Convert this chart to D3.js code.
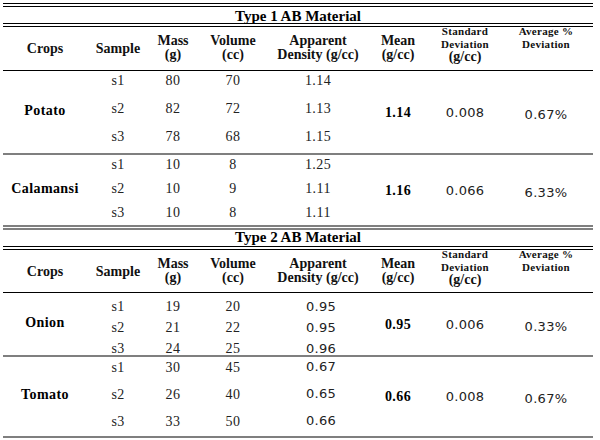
<!DOCTYPE html>
<html>
<head>
<meta charset="utf-8">
<script src="https://cdn.jsdelivr.net/npm/d3@7"></script>
<style>
  html, body { margin: 0; padding: 0; background: #fff; }
  svg { display: block; }
</style>
</head>
<body>
<svg id="chart" width="600" height="440"></svg>
<script>
// table data
const tableTitles = ["Type 1 AB Material", "Type 2 AB Material"];
const crops = ["Potato", "Calamansi", "Onion", "Tomato"];
const samples = ["s1", "s2", "s3"];
const mass = [[80, 82, 78], [10, 10, 10], [19, 21, 24], [30, 26, 33]];
const volume = [[70, 72, 68], [8, 9, 8], [20, 22, 25], [45, 40, 50]];
const density = [[1.14, 1.13, 1.15], [1.25, 1.11, 1.11], [0.95, 0.95, 0.96], [0.67, 0.65, 0.66]];
const mean = [1.14, 1.16, 0.95, 0.66];
const stdDev = [0.008, 0.066, 0.006, 0.008];
const avgDev = [0.67, 6.33, 0.33, 0.67];
const columns = ["crop", "sample", "mass", "volume", "density", "mean", "sd", "avg"];
const headers = [["Crops"], ["Sample"], ["Mass", "(g)"], ["Volume", "(cc)"],
  ["Apparent", "Density (g/cc)"], ["Mean", "(g/cc)"], ["Standard", "Deviation", "(g/cc)"], ["Average %", "Deviation"]];

const svg = d3.select("#chart");
const left = 3, right = 593;
const serif = "'Liberation Serif', 'Times New Roman', serif";
const sans = "'DejaVu Sans', Tahoma, sans-serif";

const x = d3.scaleOrdinal().domain(columns).range([45, 118, 173, 233, 318, 398, 465, 546]);

// vertical layout of the two stacked tables
const layout = [
  { top: 3.5, title: 21, hTop: 26.5, hBot: 70.5, groups: [0, 1], bottoms: [154, 226], align: [0.35, 0.4] },
  { top: 226, title: 242, hTop: 249.5, hBot: 292.5, groups: [2, 3], bottoms: [356, 437], align: [0.65, 0.4] }
];

const f2 = d3.format(".2f"), f3 = d3.format(".3f");

function hline(y, w) {
  svg.append("line").attr("x1", left).attr("x2", right)
    .attr("y1", y).attr("y2", y).attr("stroke", "#000").attr("stroke-width", w || 1.2);
}

layout.forEach((L, t) => {
  // double rules around title
  hline(L.top); hline(L.top + 3);
  hline(L.hTop - 3); hline(L.hTop);
  svg.append("text").attr("x", 298).attr("y", L.title)
    .attr("text-anchor", "middle").attr("font-family", serif)
    .attr("font-weight", "bold").attr("font-size", 15).text(tableTitles[t]);

  // headers
  headers.forEach((lines, c) => {
    const small = lines.length === 3 || c === 7;
    const y0 = small ? L.hTop + 8.5 : (lines.length === 1 ? L.hTop + 26.5 : L.hTop + 18);
    lines.forEach((s, i) => {
      const sm = small && !s.startsWith("(");
      svg.append("text").attr("x", x(columns[c])).attr("y", y0 + i * (small ? 13 : 14))
        .attr("text-anchor", "middle").attr("font-family", serif)
        .attr("font-weight", "bold").attr("font-size", sm ? 11 : 14)
        .attr("letter-spacing", sm ? 0.3 : 0)
        .attr("fill", "#111").text(s);
    });
  });
  hline(L.hBot);

  // crop groups
  L.groups.forEach((g, k) => {
    const gTop = k === 0 ? L.hBot : L.bottoms[k - 1];
    const gBot = L.bottoms[k];
    const y = d3.scalePoint().domain(samples).range([gTop, gBot]).padding(0.5).align(L.align[k]);
    const mid = (gTop + gBot) / 2;
    const cell = (col, yy, txt, opts) => {
      opts = opts || {};
      svg.append("text").attr("x", x(col) + (opts.dx || 0)).attr("y", yy).attr("dy", "0.35em")
        .attr("text-anchor", "middle")
        .attr("font-family", opts.sans ? sans : serif)
        .attr("font-weight", opts.bold ? "bold" : "normal")
        .attr("font-size", opts.sans ? 13 : 14)
        .attr("letter-spacing", opts.sans ? 0.3 : 0.4)
        .attr("fill", opts.bold ? "#000" : "#222").text(txt);
    };
    samples.forEach((s, i) => {
      cell("sample", y(s), s);
      cell("mass", y(s), mass[g][i]);
      cell("volume", y(s), volume[g][i]);
      cell("density", y(s), f2(density[g][i]), { sans: t === 1, dx: t === 1 ? 3 : 0 });
    });
    cell("crop", mid - 2, crops[g], { bold: true });
    cell("mean", mid, f2(mean[g]), { bold: true });
    cell("sd", mid, f3(stdDev[g]), { sans: true });
    cell("avg", mid + 2, f2(avgDev[g]) + "%", { sans: true });
    if (k < L.groups.length - 1 || t === 1) hline(gBot);
  });
});
</script>
</body>
</html>
